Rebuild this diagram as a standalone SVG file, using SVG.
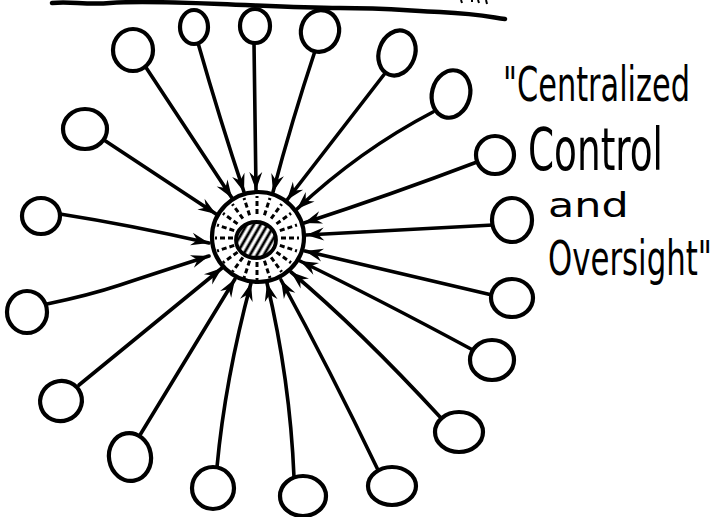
<svg xmlns="http://www.w3.org/2000/svg" xmlns:xlink="http://www.w3.org/1999/xlink" width="715" height="517" viewBox="0 0 715 517">
<style>
.node{fill:#fff;stroke:#000;stroke-width:4.2}
.conn{fill:none;stroke:#000;stroke-width:3.6;stroke-linecap:round;marker-end:url(#arr)}
.ray{stroke:#000;stroke-width:3;stroke-dasharray:5 3}
.hand{font-family:"DejaVu Sans Condensed","DejaVu Sans",sans-serif;fill:#000}
</style>
<defs>
<marker id="arr" markerUnits="userSpaceOnUse" markerWidth="22" markerHeight="16" refX="0" refY="0" viewBox="-19 -8 20 16" orient="auto">
<path d="M0,0 L-18,-6.5 L-12,0 L-18,6.5 Z" fill="#000"/>
</marker>
<pattern id="hatch" patternUnits="userSpaceOnUse" width="6" height="6" patternTransform="rotate(30)">
<line x1="2" y1="0" x2="2" y2="6" stroke="#000" stroke-width="2.8"/>
</pattern>
<line id="ray" x1="0" y1="-24" x2="0" y2="-42" class="ray"/>
</defs>
<rect width="715" height="517" fill="#fff"/>
<path d="M52,3 C70,1 85,5 110,3 S170,2 220,4 S300,8 340,8 S400,10 440,12 S490,17 505,19" fill="none" stroke="#000" stroke-width="4.5" stroke-linecap="round"/>
<path d="M461,0 L462,3 M472,0 L472,2 M478,0 L479,3 M486,0 L487,4" stroke="#000" stroke-width="2" fill="none"/>
<g id="connectors">
<path class="conn" d="M145,66 L232,198"/>
<path class="conn" d="M198,43 Q220,120 244,192"/>
<path class="conn" d="M254,43 L256,190"/>
<path class="conn" d="M315,51 Q292,120 273,192"/>
<path class="conn" d="M386,72 L287,200"/>
<path class="conn" d="M433,112 Q360,150 297,209"/>
<path class="conn" d="M477,162 Q390,195 304,223"/>
<path class="conn" d="M493,225 L306,235"/>
<path class="conn" d="M492,295 L305,251"/>
<path class="conn" d="M471,349 Q380,300 300,261"/>
<path class="conn" d="M441,418 Q360,330 291,272"/>
<path class="conn" d="M378,470 Q330,370 281,280"/>
<path class="conn" d="M294,477 Q290,380 267,283"/>
<path class="conn" d="M217,467 Q225,380 251,283"/>
<path class="conn" d="M140,435 L235,279"/>
<path class="conn" d="M79,385 L222,268"/>
<path class="conn" d="M47,304 Q90,295 120,285 T209,256"/>
<path class="conn" d="M60,214 Q130,225 209,243"/>
<path class="conn" d="M104,140 L216,214"/>
</g>
<g id="hub">
<ellipse cx="258" cy="237" rx="46" ry="45" class="node"/>
<g transform="translate(257,238)">
<use xlink:href="#ray" transform="rotate(0)"/>
<use xlink:href="#ray" transform="rotate(18)"/>
<use xlink:href="#ray" transform="rotate(36)"/>
<use xlink:href="#ray" transform="rotate(54)"/>
<use xlink:href="#ray" transform="rotate(72)"/>
<use xlink:href="#ray" transform="rotate(90)"/>
<use xlink:href="#ray" transform="rotate(108)"/>
<use xlink:href="#ray" transform="rotate(126)"/>
<use xlink:href="#ray" transform="rotate(144)"/>
<use xlink:href="#ray" transform="rotate(162)"/>
<use xlink:href="#ray" transform="rotate(180)"/>
<use xlink:href="#ray" transform="rotate(198)"/>
<use xlink:href="#ray" transform="rotate(216)"/>
<use xlink:href="#ray" transform="rotate(234)"/>
<use xlink:href="#ray" transform="rotate(252)"/>
<use xlink:href="#ray" transform="rotate(270)"/>
<use xlink:href="#ray" transform="rotate(288)"/>
<use xlink:href="#ray" transform="rotate(306)"/>
<use xlink:href="#ray" transform="rotate(324)"/>
<use xlink:href="#ray" transform="rotate(342)"/>
</g>
<ellipse cx="256" cy="240" rx="20" ry="18" fill="url(#hatch)" stroke="#000" stroke-width="3.8"/>
</g>
<g id="n1"><ellipse class="node" cx="133" cy="50" rx="20" ry="21"/></g>
<g id="n2"><ellipse class="node" cx="194" cy="27" rx="14" ry="17"/></g>
<g id="n3"><ellipse class="node" cx="255" cy="26" rx="15" ry="17"/></g>
<g id="n4"><ellipse class="node" cx="320" cy="31" rx="19" ry="21" transform="rotate(15 320 31)"/></g>
<g id="n5"><ellipse class="node" cx="397" cy="53" rx="18" ry="23" transform="rotate(20 397 53)"/></g>
<g id="n6"><ellipse class="node" cx="451" cy="94" rx="19" ry="24" transform="rotate(15 451 94)"/></g>
<g id="n7"><ellipse class="node" cx="495" cy="155" rx="19" ry="19"/></g>
<g id="n8"><ellipse class="node" cx="512" cy="220" rx="20" ry="22"/></g>
<g id="n9"><ellipse class="node" cx="512" cy="298" rx="21" ry="19"/></g>
<g id="n10"><ellipse class="node" cx="492" cy="360" rx="22" ry="20"/></g>
<g id="n11"><ellipse class="node" cx="459" cy="432" rx="24" ry="20"/></g>
<g id="n12"><ellipse class="node" cx="392" cy="486" rx="24" ry="19"/></g>
<g id="n13"><ellipse class="node" cx="303" cy="496" rx="23" ry="20"/></g>
<g id="n14"><ellipse class="node" cx="213" cy="488" rx="21" ry="21"/></g>
<g id="n15"><ellipse class="node" cx="130" cy="457" rx="21" ry="24" transform="rotate(-10 130 457)"/></g>
<g id="n16"><ellipse class="node" cx="61" cy="401" rx="21" ry="20" transform="rotate(-20 61 401)"/></g>
<g id="n17"><ellipse class="node" cx="27" cy="312" rx="20" ry="21"/></g>
<g id="n18"><ellipse class="node" cx="41" cy="216" rx="19" ry="18"/></g>
<g id="n19"><ellipse class="node" cx="85" cy="129" rx="22" ry="20"/></g>
<g id="label">
<text class="hand" transform="translate(503,101) scale(1,1.45)" font-size="33" textLength="187" lengthAdjust="spacingAndGlyphs">"Centralized</text>
<text class="hand" transform="translate(528,170) scale(1,1.45)" font-size="40" textLength="135" lengthAdjust="spacingAndGlyphs">Control</text>
<text class="hand" transform="translate(548,217) scale(1.4,1)" font-size="34">and</text>
<text class="hand" transform="translate(548,275) scale(1,1.45)" font-size="33" textLength="164" lengthAdjust="spacingAndGlyphs">Oversight"</text>
</g>
</svg>
